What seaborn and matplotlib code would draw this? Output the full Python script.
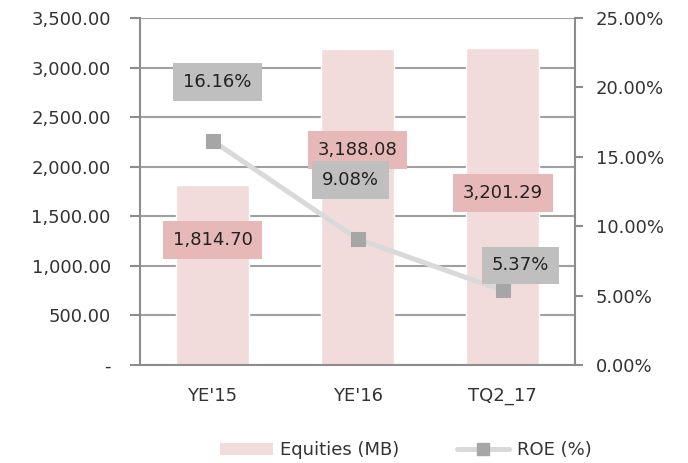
import numpy as np
import pandas as pd
import matplotlib
matplotlib.use("Agg")
import matplotlib.pyplot as plt
import seaborn as sns
from matplotlib.ticker import FuncFormatter, PercentFormatter, FixedLocator
from matplotlib.patches import Patch
from matplotlib.lines import Line2D

periods = ["YE'15", "YE'16", "TQ2_17"]
equities = [1814.70, 3188.08, 3201.29]
roe = [16.16, 9.08, 5.37]

# label offsets in pixels (box centre relative to the mark)
eq_offsets = [(0, -55), (0, -101), (0, -145)]
roe_offsets = [(5, 59), (-7, 59), (18, 25)]

sns.set_style("white")
plt.rcParams['font.family'] = ['DejaVu Sans']

BAR = "#F2DCDB"
BAR_BOX = "#E6B9B8"
ROE_BOX = "#BFBFBF"
LINE = "#D9D9D9"
MARK = "#A6A6A6"
AXC = "#8C8C8C"
TXT = "#333333"
FS = 13

fig = plt.figure(figsize=(6.88, 4.63), dpi=100)
ax = fig.add_axes([0.2035, 0.2117, 0.6323, 0.7493])

df = pd.DataFrame({"period": periods, "equity": equities, "roe": roe})
sns.barplot(data=df, x="period", y="equity", color=BAR, width=0.5,
            saturation=1, ax=ax, zorder=2)
ax.set_xlim(-0.5, 2.5)
ax.set_ylim(0, 3500)
ax.set_yticks(np.arange(0, 3501, 500))
ax.yaxis.set_major_formatter(FuncFormatter(lambda v, p: "-" if v == 0 else f"{v:,.2f}"))
ax.grid(axis="y", color="#A0A0A0", linewidth=1.5, zorder=0)
ax.set_axisbelow(True)
ax.set_xlabel("")
ax.set_ylabel("")

for s in ["top", "right"]:
    ax.spines[s].set_visible(False)
for s in ["left", "bottom"]:
    ax.spines[s].set_color(AXC)
    ax.spines[s].set_linewidth(1.5)
ax.tick_params(axis="y", length=7, width=1.5, color=AXC, labelsize=FS,
               labelcolor=TXT, pad=14)
ax.tick_params(axis="x", which="major", length=0, labelsize=FS,
               labelcolor=TXT, pad=16)
ax.xaxis.set_minor_locator(FixedLocator([-0.5, 0.5, 1.5, 2.5]))
ax.tick_params(axis="x", which="minor", length=6, width=1.5, color=AXC)

ax2 = ax.twinx()
sns.lineplot(x=np.arange(len(periods)), y=roe, ax=ax2, color=LINE, linewidth=3.6,
             marker="s", markersize=10, markerfacecolor=MARK,
             markeredgecolor=MARK, sort=False, zorder=3)
ax2.set_ylim(0, 25)
ax2.set_yticks(np.arange(0, 26, 5))
ax2.yaxis.set_major_formatter(PercentFormatter(decimals=2))
for s in ["top", "left", "bottom"]:
    ax2.spines[s].set_visible(False)
ax2.spines["right"].set_color(AXC)
ax2.spines["right"].set_linewidth(1.5)
ax2.tick_params(axis="y", length=6, width=1.5, color=AXC, labelsize=FS,
                labelcolor=TXT, pad=9)
ax2.set_ylabel("")

for i, v in enumerate(equities):
    ax2.annotate(f"{v:,.2f}", xy=(i, v / 3500 * 25), xytext=eq_offsets[i],
                 textcoords="offset pixels", ha="center", va="center",
                 fontsize=FS, color="#222222", zorder=5,
                 bbox=dict(boxstyle="square,pad=0.55", fc=BAR_BOX, ec="none"))
for i, v in enumerate(roe):
    ax2.annotate(f"{v:.2f}%", xy=(i, v), xytext=roe_offsets[i],
                 textcoords="offset pixels", ha="center", va="center",
                 fontsize=FS, color="#222222", zorder=5,
                 bbox=dict(boxstyle="square,pad=0.55", fc=ROE_BOX, ec="none"))

handles = [Patch(facecolor=BAR, edgecolor="none"),
           Line2D([0], [0], color=LINE, linewidth=3.6, marker="s",
                  markersize=8, markerfacecolor=MARK, markeredgecolor=MARK)]
fig.legend(handles, ["Equities (MB)", "ROE (%)"], loc="center",
           bbox_to_anchor=(0.59, 0.027), ncol=2, frameon=False,
           fontsize=FS, handlelength=2.9, handletextpad=0.4,
           columnspacing=3.2, labelcolor=TXT)

fig.savefig("out.png", dpi=100)
